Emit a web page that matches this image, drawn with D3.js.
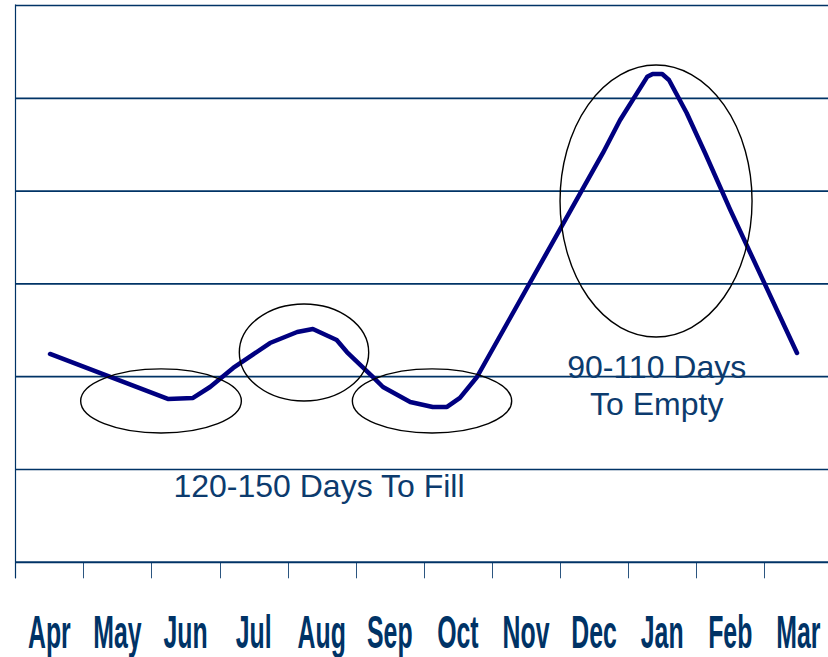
<!DOCTYPE html>
<html>
<head>
<meta charset="utf-8">
<script src="https://cdn.jsdelivr.net/npm/d3@7"></script>
<style>
  html, body { margin: 0; padding: 0; background: #ffffff; }
  svg { display: block; }
</style>
</head>
<body>
<svg id="chart" width="828" height="657"></svg>
<script>
// Months of the inventory year
const months = ["Apr", "May", "Jun", "Jul", "Aug", "Sep", "Oct", "Nov", "Dec", "Jan", "Feb", "Mar"];

// Inventory level curve: position along the year (in months from start of Apr) and level
const curvePos = [0.51, 2.24, 2.61, 2.86, 3.20, 3.74, 4.14, 4.37, 4.72, 4.87, 5.25, 5.40, 5.80, 6.13, 6.34, 6.53, 6.78, 8.63, 8.88, 9.28, 9.36, 9.50, 9.60, 9.86, 10.13, 10.50, 11.48];
const curveLevel = [2.245, 1.760, 1.771, 1.889, 2.094, 2.363, 2.482, 2.514, 2.395, 2.266, 1.997, 1.889, 1.727, 1.674, 1.674, 1.771, 1.997, 4.411, 4.763, 5.231, 5.262, 5.262, 5.197, 4.842, 4.411, 3.797, 2.256];

// Highlight ellipses: centre (month position, level) and radii (months, level units)
const ringPos = [2.14, 4.24, 6.12, 9.41];
const ringLevel = [1.739, 2.261, 1.739, 3.893];
const ringRadX = [1.18, 0.95, 1.17, 1.41];
const ringRadY = [0.345, 0.523, 0.345, 1.466];

// Annotation texts
const notes = [
  { lines: ["120-150 Days To Fill"], pos: 4.46, level: 0.70 },
  { lines: ["90-110 Days", "To Empty"], pos: 9.42, level: 1.983 }
];

const svg = d3.select("#chart");
const W = 828, H = 657;
const plotL = 15.3, plotR = 832.4, plotT = 5.5, plotB = 562.3;

const x = d3.scaleLinear().domain([0, 12]).range([plotL, plotR]);
const xBand = d3.scaleBand().domain(months).range([plotL, plotR]).padding(0);
const y = d3.scaleLinear().domain([0, 6]).range([plotB, plotT]);
const kx = (plotR - plotL) / 12;
const ky = (plotB - plotT) / 6;

const navy = "#003366";

// Horizontal gridlines (levels 1..6)
svg.append("g")
  .selectAll("line")
  .data(d3.range(1, 7))
  .join("line")
  .attr("x1", plotL).attr("x2", W)
  .attr("y1", d => y(d)).attr("y2", d => y(d))
  .attr("stroke", navy)
  .attr("stroke-width", 1.7);

// Category ticks below the axis
svg.append("g")
  .selectAll("line")
  .data(months)
  .join("line")
  .attr("x1", d => Math.round(xBand(d)) + 0.5)
  .attr("x2", d => Math.round(xBand(d)) + 0.5)
  .attr("y1", plotB).attr("y2", plotB + 16)
  .attr("stroke", "#2b5580")
  .attr("stroke-width", 1);

// Bottom axis line
svg.append("line")
  .attr("x1", plotL).attr("x2", W)
  .attr("y1", plotB).attr("y2", plotB)
  .attr("stroke", navy).attr("stroke-width", 2);

// Left axis line
svg.append("line")
  .attr("x1", 15.5).attr("x2", 15.5)
  .attr("y1", plotT - 1).attr("y2", plotB + 16)
  .attr("stroke", navy).attr("stroke-width", 1.2);

// Month labels (tall condensed bold)
svg.append("g")
  .selectAll("text")
  .data(months)
  .join("text")
  .attr("transform", d => `translate(${xBand(d) + xBand.bandwidth() / 2},648) scale(0.54,1)`)
  .attr("text-anchor", "middle")
  .attr("font-family", "'Liberation Sans', Arial, sans-serif")
  .attr("font-weight", "bold")
  .attr("font-size", 46)
  .attr("fill", navy)
  .text(d => d);

// Inventory curve
const pts = curvePos.map((p, i) => [p, curveLevel[i]]);
const line = d3.line()
  .x(d => x(d[0]))
  .y(d => y(d[1]))
  .curve(d3.curveLinear);

svg.append("path")
  .datum(pts)
  .attr("d", line)
  .attr("fill", "none")
  .attr("stroke", "#000080")
  .attr("stroke-width", 4.5)
  .attr("stroke-linejoin", "round")
  .attr("stroke-linecap", "round");

// Highlight ellipses
svg.append("g")
  .selectAll("ellipse")
  .data(ringPos.map((p, i) => ({ p, l: ringLevel[i], rx: ringRadX[i], ry: ringRadY[i] })))
  .join("ellipse")
  .attr("cx", d => x(d.p))
  .attr("cy", d => y(d.l))
  .attr("rx", d => d.rx * kx)
  .attr("ry", d => d.ry * ky)
  .attr("fill", "none")
  .attr("stroke", "#000000")
  .attr("stroke-width", 1.4);

// Annotations
notes.forEach(n => {
  const t = svg.append("text")
    .attr("text-anchor", "middle")
    .attr("font-family", "'Liberation Sans', Arial, sans-serif")
    .attr("font-size", 32)
    .attr("fill", "#0c3b6e");
  n.lines.forEach((s, i) => {
    t.append("tspan")
      .attr("x", x(n.pos))
      .attr("y", y(n.level) + i * 37)
      .text(s);
  });
});
</script>
</body>
</html>
